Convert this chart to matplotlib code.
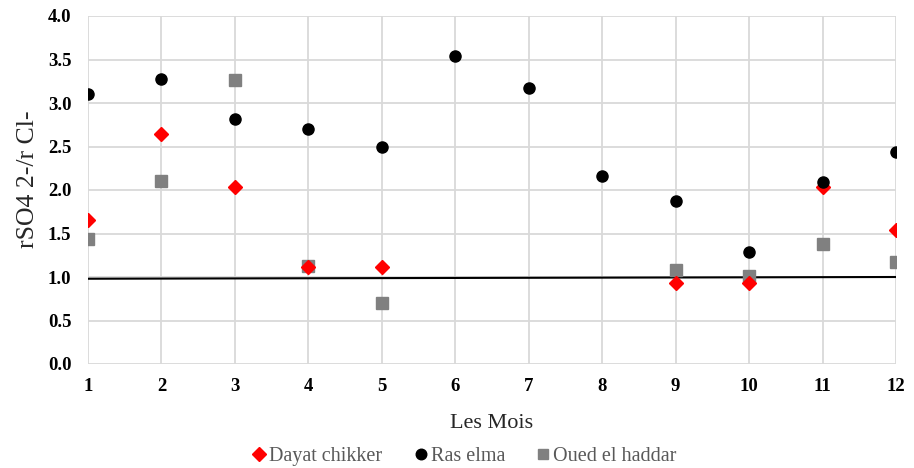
import matplotlib.pyplot as plt

# months on the x axis
months = [1, 2, 3, 4, 5, 6, 7, 8, 9, 10, 11, 12]

# rSO4 2- / rCl- ratio per site (None where no sample)
dayat_chikker = [1.65, 2.64, 2.03, 1.12, 1.12, None, None, None, 0.93, 0.93, 2.03, 1.54]
ras_elma = [3.10, 3.28, 2.82, 2.70, 2.49, 3.54, 3.17, 2.16, 1.87, 1.29, 2.09, 2.44]
oued_el_haddar = [1.44, 2.10, 3.26, 1.13, 0.70, None, None, None, 1.08, 1.01, 1.38, 1.17]

# reference line (ratio = 1)
ref_x = [1, 12]
ref_y = [0.98, 1.0]


def pick(values):
    xs = [m for m, v in zip(months, values) if v is not None]
    ys = [v for v in values if v is not None]
    return xs, ys


plt.rcParams['font.family'] = ['Liberation Serif', 'DejaVu Serif']

fig = plt.figure(figsize=(9.14, 4.68), dpi=100)
ax = fig.add_axes([88 / 914, 1 - 364 / 468, (896 - 88) / 914, (364 - 16) / 468])

ax.plot(ref_x, ref_y, color='black', linewidth=1.5, zorder=2)

x, y = pick(oued_el_haddar)
ax.plot(x, y, linestyle='none', marker='s', markersize=8, color='#808080', label='Oued el haddar', zorder=3)
x, y = pick(dayat_chikker)
ax.plot(x, y, linestyle='none', marker='D', markersize=7, color='#ff0000', label='Dayat chikker', zorder=4)
x, y = pick(ras_elma)
ax.plot(x, y, linestyle='none', marker='o', markersize=8, color='black', label='Ras elma', zorder=5)

ax.set_xlim(1, 12)
ax.set_ylim(0, 4)
ax.set_xticks(months)
ax.set_yticks([i * 0.5 for i in range(9)])
ax.set_yticklabels(['%.1f' % (i * 0.5) for i in range(9)])
ax.grid(True, color='#d9d9d9', linewidth=1.3)
ax.set_axisbelow(True)
for s in ax.spines.values():
    s.set_visible(False)
ax.tick_params(length=0, labelsize=13.5)
ax.tick_params(axis='x', pad=10)
ax.tick_params(axis='y', pad=12)
for lab in ax.get_xticklabels() + ax.get_yticklabels():
    lab.set_fontweight('bold')

ax.set_xlabel('Les Mois', fontsize=16, color='#262626', labelpad=14)
ax.set_ylabel('rSO4 2-/r Cl-', fontsize=18.5, color='#262626')
ax.yaxis.set_label_coords(-0.061, 0.53)

handles, labels = ax.get_legend_handles_labels()
order = [1, 2, 0]
leg = fig.legend([handles[i] for i in order], [labels[i] for i in order],
                 loc='center', bbox_to_anchor=(462 / 914, 1 - 456 / 468), ncol=3,
                 frameon=False, fontsize=14.5, handletextpad=-0.1, columnspacing=1.3,
                 handlelength=1.2, markerscale=0.95)
for t in leg.get_texts():
    t.set_color('#595959')

fig.savefig('out.png', dpi=100)
